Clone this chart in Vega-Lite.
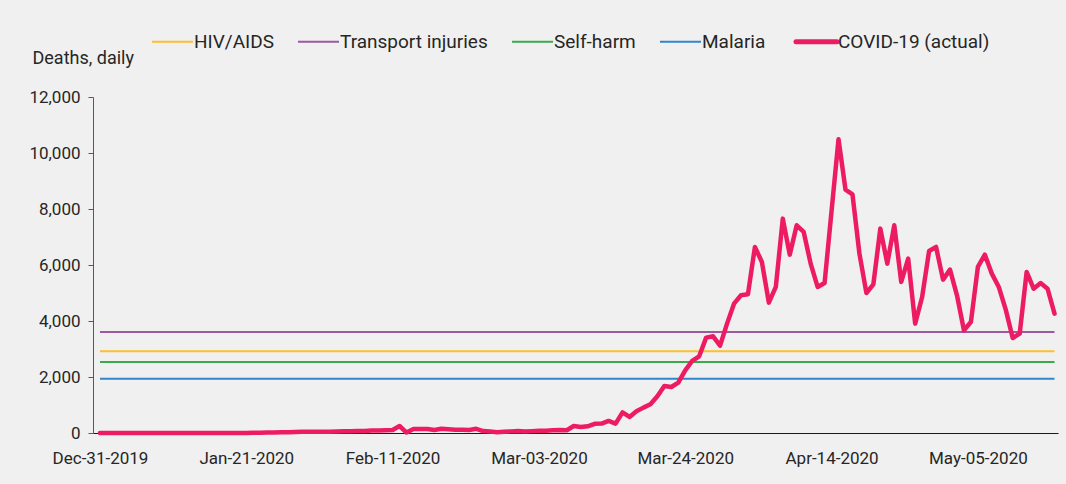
{
  "$schema": "https://vega.github.io/schema/vega-lite/v6.json",
  "width": 965,
  "height": 336,
  "autosize": {"type": "none"},
  "padding": {"left": 93, "top": 97, "right": 8, "bottom": 51},
  "background": "#f0f0f0",
  "config": {
    "view": {"stroke": null},
    "font": "Roboto",
    "axis": {"labelFont": "Roboto", "titleFont": "Roboto", "grid": false},
    "legend": {"labelFont": "Roboto"}
  },
  "data": {
    "values": [
      {"date": "2019-12-31", "series": "HIV/AIDS", "deaths": 2920},
      {"date": "2020-05-16", "series": "HIV/AIDS", "deaths": 2920},
      {"date": "2019-12-31", "series": "Transport injuries", "deaths": 3610},
      {"date": "2020-05-16", "series": "Transport injuries", "deaths": 3610},
      {"date": "2019-12-31", "series": "Self-harm", "deaths": 2540},
      {"date": "2020-05-16", "series": "Self-harm", "deaths": 2540},
      {"date": "2019-12-31", "series": "Malaria", "deaths": 1940},
      {"date": "2020-05-16", "series": "Malaria", "deaths": 1940},
      {"date": "2019-12-31", "series": "COVID-19 (actual)", "deaths": 0},
      {"date": "2020-01-01", "series": "COVID-19 (actual)", "deaths": 0},
      {"date": "2020-01-02", "series": "COVID-19 (actual)", "deaths": 0},
      {"date": "2020-01-03", "series": "COVID-19 (actual)", "deaths": 0},
      {"date": "2020-01-04", "series": "COVID-19 (actual)", "deaths": 0},
      {"date": "2020-01-05", "series": "COVID-19 (actual)", "deaths": 0},
      {"date": "2020-01-06", "series": "COVID-19 (actual)", "deaths": 0},
      {"date": "2020-01-07", "series": "COVID-19 (actual)", "deaths": 0},
      {"date": "2020-01-08", "series": "COVID-19 (actual)", "deaths": 0},
      {"date": "2020-01-09", "series": "COVID-19 (actual)", "deaths": 0},
      {"date": "2020-01-10", "series": "COVID-19 (actual)", "deaths": 0},
      {"date": "2020-01-11", "series": "COVID-19 (actual)", "deaths": 1},
      {"date": "2020-01-12", "series": "COVID-19 (actual)", "deaths": 0},
      {"date": "2020-01-13", "series": "COVID-19 (actual)", "deaths": 0},
      {"date": "2020-01-14", "series": "COVID-19 (actual)", "deaths": 0},
      {"date": "2020-01-15", "series": "COVID-19 (actual)", "deaths": 0},
      {"date": "2020-01-16", "series": "COVID-19 (actual)", "deaths": 0},
      {"date": "2020-01-17", "series": "COVID-19 (actual)", "deaths": 1},
      {"date": "2020-01-18", "series": "COVID-19 (actual)", "deaths": 0},
      {"date": "2020-01-19", "series": "COVID-19 (actual)", "deaths": 0},
      {"date": "2020-01-20", "series": "COVID-19 (actual)", "deaths": 0},
      {"date": "2020-01-21", "series": "COVID-19 (actual)", "deaths": 3},
      {"date": "2020-01-22", "series": "COVID-19 (actual)", "deaths": 11},
      {"date": "2020-01-23", "series": "COVID-19 (actual)", "deaths": 8},
      {"date": "2020-01-24", "series": "COVID-19 (actual)", "deaths": 16},
      {"date": "2020-01-25", "series": "COVID-19 (actual)", "deaths": 14},
      {"date": "2020-01-26", "series": "COVID-19 (actual)", "deaths": 26},
      {"date": "2020-01-27", "series": "COVID-19 (actual)", "deaths": 26},
      {"date": "2020-01-28", "series": "COVID-19 (actual)", "deaths": 38},
      {"date": "2020-01-29", "series": "COVID-19 (actual)", "deaths": 43},
      {"date": "2020-01-30", "series": "COVID-19 (actual)", "deaths": 46},
      {"date": "2020-01-31", "series": "COVID-19 (actual)", "deaths": 45},
      {"date": "2020-02-01", "series": "COVID-19 (actual)", "deaths": 46},
      {"date": "2020-02-02", "series": "COVID-19 (actual)", "deaths": 45},
      {"date": "2020-02-03", "series": "COVID-19 (actual)", "deaths": 57},
      {"date": "2020-02-04", "series": "COVID-19 (actual)", "deaths": 64},
      {"date": "2020-02-05", "series": "COVID-19 (actual)", "deaths": 66},
      {"date": "2020-02-06", "series": "COVID-19 (actual)", "deaths": 73},
      {"date": "2020-02-07", "series": "COVID-19 (actual)", "deaths": 73},
      {"date": "2020-02-08", "series": "COVID-19 (actual)", "deaths": 86},
      {"date": "2020-02-09", "series": "COVID-19 (actual)", "deaths": 89},
      {"date": "2020-02-10", "series": "COVID-19 (actual)", "deaths": 97},
      {"date": "2020-02-11", "series": "COVID-19 (actual)", "deaths": 108},
      {"date": "2020-02-12", "series": "COVID-19 (actual)", "deaths": 250},
      {"date": "2020-02-13", "series": "COVID-19 (actual)", "deaths": 15},
      {"date": "2020-02-14", "series": "COVID-19 (actual)", "deaths": 140},
      {"date": "2020-02-15", "series": "COVID-19 (actual)", "deaths": 143},
      {"date": "2020-02-16", "series": "COVID-19 (actual)", "deaths": 142},
      {"date": "2020-02-17", "series": "COVID-19 (actual)", "deaths": 106},
      {"date": "2020-02-18", "series": "COVID-19 (actual)", "deaths": 150},
      {"date": "2020-02-19", "series": "COVID-19 (actual)", "deaths": 136},
      {"date": "2020-02-20", "series": "COVID-19 (actual)", "deaths": 120},
      {"date": "2020-02-21", "series": "COVID-19 (actual)", "deaths": 118},
      {"date": "2020-02-22", "series": "COVID-19 (actual)", "deaths": 110},
      {"date": "2020-02-23", "series": "COVID-19 (actual)", "deaths": 150},
      {"date": "2020-02-24", "series": "COVID-19 (actual)", "deaths": 70},
      {"date": "2020-02-25", "series": "COVID-19 (actual)", "deaths": 52},
      {"date": "2020-02-26", "series": "COVID-19 (actual)", "deaths": 30},
      {"date": "2020-02-27", "series": "COVID-19 (actual)", "deaths": 45},
      {"date": "2020-02-28", "series": "COVID-19 (actual)", "deaths": 58},
      {"date": "2020-02-29", "series": "COVID-19 (actual)", "deaths": 68},
      {"date": "2020-03-01", "series": "COVID-19 (actual)", "deaths": 56},
      {"date": "2020-03-02", "series": "COVID-19 (actual)", "deaths": 67},
      {"date": "2020-03-03", "series": "COVID-19 (actual)", "deaths": 77},
      {"date": "2020-03-04", "series": "COVID-19 (actual)", "deaths": 77},
      {"date": "2020-03-05", "series": "COVID-19 (actual)", "deaths": 100},
      {"date": "2020-03-06", "series": "COVID-19 (actual)", "deaths": 105},
      {"date": "2020-03-07", "series": "COVID-19 (actual)", "deaths": 100},
      {"date": "2020-03-08", "series": "COVID-19 (actual)", "deaths": 250},
      {"date": "2020-03-09", "series": "COVID-19 (actual)", "deaths": 215},
      {"date": "2020-03-10", "series": "COVID-19 (actual)", "deaths": 240},
      {"date": "2020-03-11", "series": "COVID-19 (actual)", "deaths": 330},
      {"date": "2020-03-12", "series": "COVID-19 (actual)", "deaths": 335},
      {"date": "2020-03-13", "series": "COVID-19 (actual)", "deaths": 430},
      {"date": "2020-03-14", "series": "COVID-19 (actual)", "deaths": 335},
      {"date": "2020-03-15", "series": "COVID-19 (actual)", "deaths": 739},
      {"date": "2020-03-16", "series": "COVID-19 (actual)", "deaths": 573},
      {"date": "2020-03-17", "series": "COVID-19 (actual)", "deaths": 775},
      {"date": "2020-03-18", "series": "COVID-19 (actual)", "deaths": 906},
      {"date": "2020-03-19", "series": "COVID-19 (actual)", "deaths": 1025},
      {"date": "2020-03-20", "series": "COVID-19 (actual)", "deaths": 1311},
      {"date": "2020-03-21", "series": "COVID-19 (actual)", "deaths": 1680},
      {"date": "2020-03-22", "series": "COVID-19 (actual)", "deaths": 1644},
      {"date": "2020-03-23", "series": "COVID-19 (actual)", "deaths": 1799},
      {"date": "2020-03-24", "series": "COVID-19 (actual)", "deaths": 2239},
      {"date": "2020-03-25", "series": "COVID-19 (actual)", "deaths": 2573},
      {"date": "2020-03-26", "series": "COVID-19 (actual)", "deaths": 2739},
      {"date": "2020-03-27", "series": "COVID-19 (actual)", "deaths": 3406},
      {"date": "2020-03-28", "series": "COVID-19 (actual)", "deaths": 3454},
      {"date": "2020-03-29", "series": "COVID-19 (actual)", "deaths": 3120},
      {"date": "2020-03-30", "series": "COVID-19 (actual)", "deaths": 3906},
      {"date": "2020-03-31", "series": "COVID-19 (actual)", "deaths": 4620},
      {"date": "2020-04-01", "series": "COVID-19 (actual)", "deaths": 4918},
      {"date": "2020-04-02", "series": "COVID-19 (actual)", "deaths": 4954},
      {"date": "2020-04-03", "series": "COVID-19 (actual)", "deaths": 6644},
      {"date": "2020-04-04", "series": "COVID-19 (actual)", "deaths": 6108},
      {"date": "2020-04-05", "series": "COVID-19 (actual)", "deaths": 4656},
      {"date": "2020-04-06", "series": "COVID-19 (actual)", "deaths": 5216},
      {"date": "2020-04-07", "series": "COVID-19 (actual)", "deaths": 7656},
      {"date": "2020-04-08", "series": "COVID-19 (actual)", "deaths": 6370},
      {"date": "2020-04-09", "series": "COVID-19 (actual)", "deaths": 7418},
      {"date": "2020-04-10", "series": "COVID-19 (actual)", "deaths": 7180},
      {"date": "2020-04-11", "series": "COVID-19 (actual)", "deaths": 6049},
      {"date": "2020-04-12", "series": "COVID-19 (actual)", "deaths": 5216},
      {"date": "2020-04-13", "series": "COVID-19 (actual)", "deaths": 5358},
      {"date": "2020-04-14", "series": "COVID-19 (actual)", "deaths": 7930},
      {"date": "2020-04-15", "series": "COVID-19 (actual)", "deaths": 10489},
      {"date": "2020-04-16", "series": "COVID-19 (actual)", "deaths": 8692},
      {"date": "2020-04-17", "series": "COVID-19 (actual)", "deaths": 8525},
      {"date": "2020-04-18", "series": "COVID-19 (actual)", "deaths": 6406},
      {"date": "2020-04-19", "series": "COVID-19 (actual)", "deaths": 5001},
      {"date": "2020-04-20", "series": "COVID-19 (actual)", "deaths": 5311},
      {"date": "2020-04-21", "series": "COVID-19 (actual)", "deaths": 7299},
      {"date": "2020-04-22", "series": "COVID-19 (actual)", "deaths": 6049},
      {"date": "2020-04-23", "series": "COVID-19 (actual)", "deaths": 7418},
      {"date": "2020-04-24", "series": "COVID-19 (actual)", "deaths": 5394},
      {"date": "2020-04-25", "series": "COVID-19 (actual)", "deaths": 6228},
      {"date": "2020-04-26", "series": "COVID-19 (actual)", "deaths": 3906},
      {"date": "2020-04-27", "series": "COVID-19 (actual)", "deaths": 4858},
      {"date": "2020-04-28", "series": "COVID-19 (actual)", "deaths": 6501},
      {"date": "2020-04-29", "series": "COVID-19 (actual)", "deaths": 6644},
      {"date": "2020-04-30", "series": "COVID-19 (actual)", "deaths": 5478},
      {"date": "2020-05-01", "series": "COVID-19 (actual)", "deaths": 5835},
      {"date": "2020-05-02", "series": "COVID-19 (actual)", "deaths": 4918},
      {"date": "2020-05-03", "series": "COVID-19 (actual)", "deaths": 3668},
      {"date": "2020-05-04", "series": "COVID-19 (actual)", "deaths": 3966},
      {"date": "2020-05-05", "series": "COVID-19 (actual)", "deaths": 5930},
      {"date": "2020-05-06", "series": "COVID-19 (actual)", "deaths": 6370},
      {"date": "2020-05-07", "series": "COVID-19 (actual)", "deaths": 5692},
      {"date": "2020-05-08", "series": "COVID-19 (actual)", "deaths": 5216},
      {"date": "2020-05-09", "series": "COVID-19 (actual)", "deaths": 4406},
      {"date": "2020-05-10", "series": "COVID-19 (actual)", "deaths": 3394},
      {"date": "2020-05-11", "series": "COVID-19 (actual)", "deaths": 3549},
      {"date": "2020-05-12", "series": "COVID-19 (actual)", "deaths": 5751},
      {"date": "2020-05-13", "series": "COVID-19 (actual)", "deaths": 5156},
      {"date": "2020-05-14", "series": "COVID-19 (actual)", "deaths": 5358},
      {"date": "2020-05-15", "series": "COVID-19 (actual)", "deaths": 5156},
      {"date": "2020-05-16", "series": "COVID-19 (actual)", "deaths": 4263}
    ]
  },
  "encoding": {
    "x": {
      "field": "date",
      "type": "temporal",
      "scale": {"type": "utc", "domain": [{"year": 2019, "month": 12, "date": 30, "utc": true}, {"year": 2020, "month": 5, "date": 16, "hours": 12, "utc": true}]},
      "axis": {
        "title": null,
        "format": "%b-%d-%Y",
        "values": [
          {"year": 2019, "month": 12, "date": 31, "utc": true},
          {"year": 2020, "month": 1, "date": 21, "utc": true},
          {"year": 2020, "month": 2, "date": 11, "utc": true},
          {"year": 2020, "month": 3, "date": 3, "utc": true},
          {"year": 2020, "month": 3, "date": 24, "utc": true},
          {"year": 2020, "month": 4, "date": 14, "utc": true},
          {"year": 2020, "month": 5, "date": 5, "utc": true}
        ],
        "ticks": false,
        "labelPadding": 17,
        "labelFontSize": 17,
        "labelColor": "#262626",
        "labelFlush": false,
        "labelOverlap": false,
        "domainColor": "#1a1a1a",
        "domainWidth": 1.2
      }
    },
    "y": {
      "field": "deaths",
      "type": "quantitative",
      "scale": {"domain": [0, 12000], "nice": false},
      "axis": {
        "title": "Deaths, daily",
        "titleAngle": 0,
        "titleAlign": "left",
        "titleBaseline": "alphabetic",
        "titleX": -61,
        "titleY": -34,
        "titleFontSize": 18,
        "titleFontWeight": "normal",
        "titleColor": "#262626",
        "values": [0, 2000, 4000, 6000, 8000, 10000, 12000],
        "format": ",.0f",
        "tickSize": 5,
        "tickColor": "#595959",
        "domainColor": "#595959",
        "labelPadding": 8,
        "labelFontSize": 17,
        "labelColor": "#262626"
      }
    },
    "color": {
      "field": "series",
      "type": "nominal",
      "scale": {
        "domain": ["HIV/AIDS", "Transport injuries", "Self-harm", "Malaria", "COVID-19 (actual)"],
        "range": ["#FDBF2D", "#9C58A1", "#3BAA4B", "#2F86CF", "#ED1C62"]
      },
      "legend": {
        "title": null,
        "orient": "none",
        "direction": "horizontal",
        "legendX": 70,
        "legendY": -65,
        "labelFontSize": 19,
        "labelColor": "#262626",
        "labelOffset": 12,
        "labelLimit": 400,
        "symbolType": "stroke",
        "symbolSize": 1681,
        "symbolStrokeWidth": 2,
        "columnPadding": 20,
        "padding": 0,
        "encode": {
          "symbols": {
            "update": {
              "strokeWidth": {"signal": "datum.value === 'COVID-19 (actual)' ? 5 : 2"},
              "strokeCap": {"signal": "datum.value === 'COVID-19 (actual)' ? 'round' : 'butt'"}
            }
          }
        }
      }
    }
  },
  "layer": [
    {
      "transform": [{"filter": "datum.series !== 'COVID-19 (actual)'"}],
      "mark": {"type": "line", "strokeWidth": 2, "strokeCap": "butt"}
    },
    {
      "transform": [{"filter": "datum.series === 'COVID-19 (actual)'"}],
      "mark": {"type": "line", "strokeWidth": 4.5, "strokeJoin": "round", "strokeCap": "round"}
    }
  ]
}
